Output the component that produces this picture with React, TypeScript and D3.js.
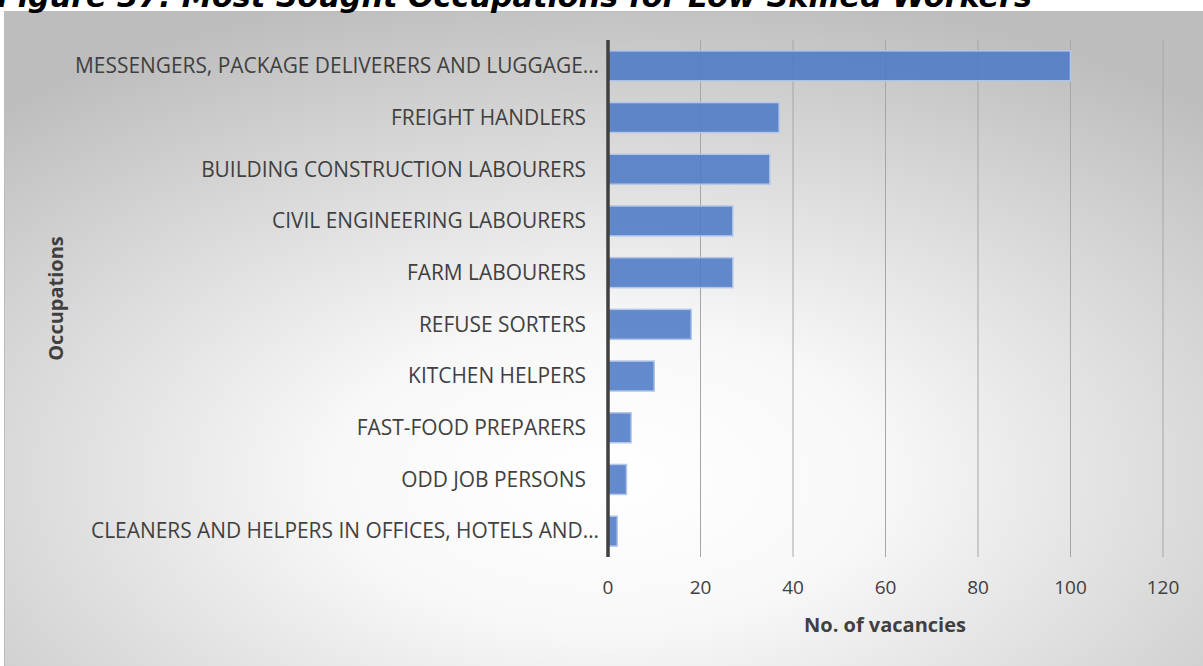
import React from "react";
import * as d3 from "d3";

const categories = [
  "MESSENGERS, PACKAGE DELIVERERS AND LUGGAGE…",
  "FREIGHT HANDLERS",
  "BUILDING CONSTRUCTION LABOURERS",
  "CIVIL ENGINEERING LABOURERS",
  "FARM LABOURERS",
  "REFUSE SORTERS",
  "KITCHEN HELPERS",
  "FAST-FOOD PREPARERS",
  "ODD JOB PERSONS",
  "CLEANERS AND HELPERS IN OFFICES, HOTELS AND…",
];
const values = [100, 37, 35, 27, 27, 18, 10, 5, 4, 2];
const xTicks = [0, 20, 40, 60, 80, 100, 120];
const title = "Figure 37: Most Sought Occupations for Low Skilled Workers";
const xTitle = "No. of vacancies";
const yTitle = "Occupations";

export default function App() {
  const W = 1203, H = 666;
  const left = 608, right = 1163, top = 40, bottom = 557;
  const x = d3.scaleLinear().domain([0, 120]).range([left, right]);
  const y = d3.scaleBand<string>().domain(categories).range([top, bottom]).paddingInner(0.42).paddingOuter(0.21);
  const font = "'Open Sans', sans-serif";
  return (
    <svg width={W} height={H} style={{ position: "absolute", left: 0, top: 0 }}>
      <defs>
        <radialGradient id="bg" cx="0.5" cy="0.7" r="0.75" fx="0.5" fy="0.7">
          <stop offset="0" stopColor="#ffffff" />
          <stop offset="0.3" stopColor="#f8f8f8" />
          <stop offset="1" stopColor="#bdbdbd" />
        </radialGradient>
      </defs>
      <rect x={0} y={0} width={W} height={H} fill="#ffffff" />
      <rect x={4.5} y={11.5} width={W} height={H} fill="url(#bg)" stroke="#bcbcbc" strokeWidth={1} />
      <text x={-3} y={7} fontFamily="'DejaVu Sans', Verdana, sans-serif" fontWeight="bold" fontStyle="italic" fontSize={30} fill="#000" textLength={1035} lengthAdjust="spacingAndGlyphs">{title}</text>
      {xTicks.map((t) => (
        <g key={t}>
          {t > 0 && <line x1={x(t)} x2={x(t)} y1={top} y2={bottom} stroke="#a6a6a6" strokeWidth={1} />}
          <text x={x(t)} y={594} textAnchor="middle" fontFamily={font} fontSize={19} fill="#404040">{t}</text>
        </g>
      ))}
      {categories.map((c, i) => (
        <g key={c}>
          <rect x={x(0)} y={y(c)!} width={x(values[i]) - x(0)} height={y.bandwidth()} fill="#4f7ac7" fillOpacity={0.88} stroke="#b4c7e7" strokeWidth={1.5} />
          <text x={c.endsWith("…") ? 599 : 586} y={y(c)! + y.bandwidth() / 2} dy="0.35em" textAnchor="end" fontFamily={font} fontSize={20.9} fill="#404040">{c}</text>
        </g>
      ))}
      <line x1={x(0)} x2={x(0)} y1={top} y2={bottom} stroke="#404040" strokeWidth={3.5} />
      <text x={885} y={632} textAnchor="middle" fontFamily={font} fontWeight="bold" fontSize={20} fill="#404040">{xTitle}</text>
      <text transform={`translate(63,${(top + bottom) / 2}) rotate(-90)`} textAnchor="middle" fontFamily={font} fontWeight="bold" fontSize={20} fill="#404040">{yTitle}</text>
    </svg>
  );
}
